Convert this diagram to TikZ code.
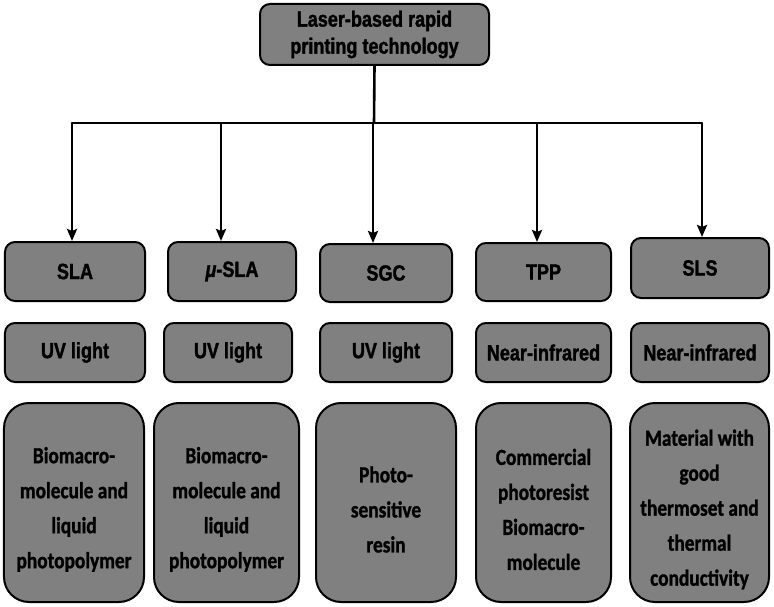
\documentclass[tikz,border=0pt]{standalone}
\usepackage{fontspec}
\setmainfont{Liberation Sans}
\newfontfamily\headfont[FakeStretch=0.82,FakeBold=1.5]{Liberation Sans}
\newfontfamily\matfont[FakeStretch=0.84,FakeBold=1.2]{Carlito}
\usetikzlibrary{arrows.meta}
\definecolor{boxgray}{RGB}{128,128,128}
\newcommand{\tstrut}{\rule{0pt}{30bp}}
\tikzset{
  basebox/.style={draw=black, line width=2bp, fill=boxgray, inner sep=0pt, align=center, text=black},
  smallbox/.style={basebox, rounded corners=10bp, font=\headfont\bfseries\fontsize{22bp}{27bp}\selectfont},
  tallbox/.style={basebox, rounded corners=25bp, minimum height=199bp, font=\matfont\bfseries\fontsize{23bp}{35bp}\selectfont},
  conn/.style={line width=2.6bp, draw=black},
  arr/.style={conn, -{Stealth[length=12bp,width=10bp,inset=2bp]}}
}
\begin{document}
\begin{tikzpicture}[x=1bp,y=-1bp]
\useasboundingbox (0,0) rectangle (774,607);
% top
\node[smallbox, minimum width=229bp, minimum height=61bp] (top) at (374.5,34.5) {Laser-based rapid\\printing technology};
% row 1
\node[smallbox, minimum width=140bp, minimum height=59bp] (sla) at (75,271.5) {SLA};
\node[smallbox, minimum width=128bp, minimum height=59bp] (musla) at (232,271.5) {{\itshape μ}-SLA};
\node[smallbox, minimum width=132bp, minimum height=58bp] (sgc) at (386,273) {SGC};
\node[smallbox, minimum width=135bp, minimum height=58bp] (tpp) at (543.5,272) {TPP};
\node[smallbox, minimum width=138bp, minimum height=60bp] (sls) at (700,268) {SLS};
% row 2
\node[smallbox, minimum width=140bp, minimum height=59bp] (slaL) at (75,352.5) {UV light};
\node[smallbox, minimum width=128bp, minimum height=59bp] (museL) at (228,352.5) {UV light};
\node[smallbox, minimum width=132bp, minimum height=59bp] (sgcL) at (386,352.5) {UV light};
\node[smallbox, minimum width=135bp, minimum height=59bp] (tppL) at (543.5,352.5) {Near-infrared};
\node[smallbox, minimum width=138bp, minimum height=59bp] (slsL) at (700,352.5) {Near-infrared};
% row 3
\node[tallbox, minimum width=140bp] (slaM) at (74,502.5) {\tstrut Biomacro-\\molecule and\\liquid\\photopolymer};
\node[tallbox, minimum width=145bp] (museM) at (226.5,502.5) {\tstrut Biomacro-\\molecule and\\liquid\\photopolymer};
\node[tallbox, minimum width=140bp] (sgcM) at (386,502.5) {\tstrut Photo-\\sensitive\\resin};
\node[tallbox, minimum width=135bp] (tppM) at (543.5,502.5) {\tstrut Commercial\\photoresist\\Biomacro-\\molecule};
\node[tallbox, minimum width=139bp] (slsM) at (699.5,502.5) {\tstrut Material with\\good\\thermoset and\\thermal\\conductivity};
% connectors
\coordinate (hub) at (374,123);
\coordinate (busL) at (72,123);
\coordinate (busR) at (702,123);
\draw[conn] (top.south) -- (hub);
\draw[conn, line cap=round] (busL) -- (busR);
\draw[arr] ([xshift=-3bp]sla.north |- hub) -- ([xshift=-3bp]sla.north);
\draw[arr] ([xshift=-11bp]musla.north |- hub) -- ([xshift=-11bp]musla.north);
\draw[arr] ([xshift=-13bp]sgc.north |- hub) -- ([xshift=-13bp]sgc.north);
\draw[arr] ([xshift=-6.5bp]tpp.north |- hub) -- ([xshift=-6.5bp]tpp.north);
\draw[arr] ([xshift=2bp]sls.north |- hub) -- ([xshift=2bp]sls.north);
\end{tikzpicture}
\end{document}
